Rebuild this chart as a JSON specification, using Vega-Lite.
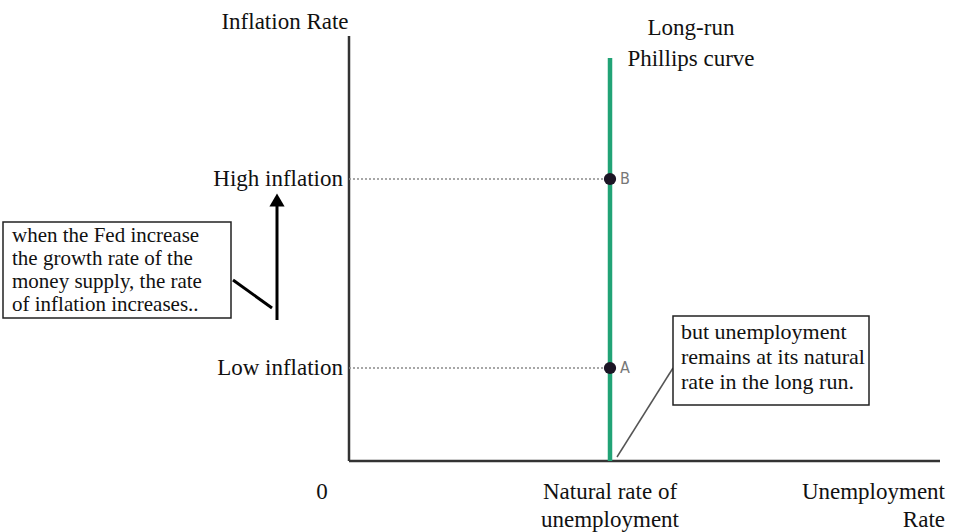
{
  "$schema": "https://vega.github.io/schema/vega-lite/v6.json",
  "width": 965,
  "height": 532,
  "autosize": {"type": "fit", "contains": "padding"},
  "padding": 0,
  "background": "white",
  "config": {"view": {"stroke": null}},
  "layer": [
    {
      "data": {"values": [
        {"part": "vertical axis", "x": 0, "y": 0, "x2": 0, "y2": 425},
        {"part": "horizontal axis", "x": 0, "y": 0, "x2": 591, "y2": 0}
      ]},
      "mark": {"type": "rule", "color": "#333333", "strokeWidth": 2.5},
      "encoding": {
        "x": {"field": "x", "type": "quantitative", "scale": {"domain": [-349, 616], "nice": false, "zero": false}, "axis": null},
        "y": {"field": "y", "type": "quantitative", "scale": {"domain": [-71, 461], "nice": false, "zero": false}, "axis": null},
        "x2": {"field": "x2"},
        "y2": {"field": "y2"}
      }
    },
    {
      "data": {"values": [
        {"level": "High inflation", "x": 0, "x2": 261, "y": 282},
        {"level": "Low inflation", "x": 0, "x2": 261, "y": 93}
      ]},
      "mark": {"type": "rule", "color": "#8a8a8a", "strokeWidth": 1.5, "strokeDash": [2, 2]},
      "encoding": {
        "x": {"field": "x", "type": "quantitative", "scale": {"domain": [-349, 616], "nice": false, "zero": false}, "axis": null},
        "x2": {"field": "x2"},
        "y": {"field": "y", "type": "quantitative", "scale": {"domain": [-71, 461], "nice": false, "zero": false}, "axis": null}
      }
    },
    {
      "data": {"values": [
        {"curve": "Long-run Phillips curve", "x": 261, "y": 0, "y2": 403}
      ]},
      "mark": {"type": "rule", "color": "#21a376", "strokeWidth": 4.5},
      "encoding": {
        "x": {"field": "x", "type": "quantitative", "scale": {"domain": [-349, 616], "nice": false, "zero": false}, "axis": null},
        "y": {"field": "y", "type": "quantitative", "scale": {"domain": [-71, 461], "nice": false, "zero": false}, "axis": null},
        "y2": {"field": "y2"}
      }
    },
    {
      "data": {"values": [
        {"link": "left note", "x": -116, "y": 181, "x2": -77, "y2": 153}
      ]},
      "mark": {"type": "rule", "color": "#000000", "strokeWidth": 3},
      "encoding": {
        "x": {"field": "x", "type": "quantitative", "scale": {"domain": [-349, 616], "nice": false, "zero": false}, "axis": null},
        "y": {"field": "y", "type": "quantitative", "scale": {"domain": [-71, 461], "nice": false, "zero": false}, "axis": null},
        "x2": {"field": "x2"},
        "y2": {"field": "y2"}
      }
    },
    {
      "data": {"values": [
        {"link": "right note", "x": 268, "y": 4, "x2": 324, "y2": 93}
      ]},
      "mark": {"type": "rule", "color": "#555555", "strokeWidth": 1.5},
      "encoding": {
        "x": {"field": "x", "type": "quantitative", "scale": {"domain": [-349, 616], "nice": false, "zero": false}, "axis": null},
        "y": {"field": "y", "type": "quantitative", "scale": {"domain": [-71, 461], "nice": false, "zero": false}, "axis": null},
        "x2": {"field": "x2"},
        "y2": {"field": "y2"}
      }
    },
    {
      "data": {"values": [
        {"arrow": "shaft", "x": -72, "y": 141, "y2": 256}
      ]},
      "mark": {"type": "rule", "color": "#000000", "strokeWidth": 3},
      "encoding": {
        "x": {"field": "x", "type": "quantitative", "scale": {"domain": [-349, 616], "nice": false, "zero": false}, "axis": null},
        "y": {"field": "y", "type": "quantitative", "scale": {"domain": [-71, 461], "nice": false, "zero": false}, "axis": null},
        "y2": {"field": "y2"}
      }
    },
    {
      "data": {"values": [
        {"arrow": "head", "x": -72, "y": 261}
      ]},
      "mark": {"type": "point", "shape": "triangle-up", "filled": true, "color": "#000000", "opacity": 1, "size": 230},
      "encoding": {
        "x": {"field": "x", "type": "quantitative", "scale": {"domain": [-349, 616], "nice": false, "zero": false}, "axis": null},
        "y": {"field": "y", "type": "quantitative", "scale": {"domain": [-71, 461], "nice": false, "zero": false}, "axis": null}
      }
    },
    {
      "data": {"values": [
        {"box": "left", "x": -346, "x2": -118, "y": 239, "y2": 143},
        {"box": "right", "x": 324, "x2": 520, "y": 145, "y2": 56}
      ]},
      "mark": {"type": "rect", "fill": "white", "stroke": "#222222", "strokeWidth": 1.5},
      "encoding": {
        "x": {"field": "x", "type": "quantitative", "scale": {"domain": [-349, 616], "nice": false, "zero": false}, "axis": null},
        "y": {"field": "y", "type": "quantitative", "scale": {"domain": [-71, 461], "nice": false, "zero": false}, "axis": null},
        "x2": {"field": "x2"},
        "y2": {"field": "y2"}
      }
    },
    {
      "data": {"values": [
        {"point": "B", "x": 261, "y": 282},
        {"point": "A", "x": 261, "y": 93}
      ]},
      "mark": {"type": "point", "shape": "circle", "filled": true, "color": "#1c1525", "opacity": 1, "size": 150},
      "encoding": {
        "x": {"field": "x", "type": "quantitative", "scale": {"domain": [-349, 616], "nice": false, "zero": false}, "axis": null},
        "y": {"field": "y", "type": "quantitative", "scale": {"domain": [-71, 461], "nice": false, "zero": false}, "axis": null}
      }
    },
    {
      "data": {"values": [
        {"label": "B", "x": 271, "y": 282},
        {"label": "A", "x": 271, "y": 93}
      ]},
      "mark": {"type": "text", "align": "left", "baseline": "middle", "font": "DejaVu Sans Condensed, DejaVu Sans, sans-serif", "fontSize": 16, "color": "#777777"},
      "encoding": {
        "x": {"field": "x", "type": "quantitative", "scale": {"domain": [-349, 616], "nice": false, "zero": false}, "axis": null},
        "y": {"field": "y", "type": "quantitative", "scale": {"domain": [-71, 461], "nice": false, "zero": false}, "axis": null},
        "text": {"field": "label"}
      }
    },
    {
      "data": {"values": [
        {"label": "Inflation Rate", "x": -64, "y": 439},
        {"label": "0", "x": -27, "y": -31},
        {"label": "Natural rate of", "x": 261, "y": -31},
        {"label": "unemployment", "x": 261, "y": -59},
        {"label": "Long-run", "x": 342, "y": 433},
        {"label": "Phillips curve", "x": 342, "y": 402}
      ]},
      "mark": {"type": "text", "align": "center", "baseline": "middle", "font": "Liberation Serif, Times New Roman, serif", "fontSize": 23, "color": "#111111"},
      "encoding": {
        "x": {"field": "x", "type": "quantitative", "scale": {"domain": [-349, 616], "nice": false, "zero": false}, "axis": null},
        "y": {"field": "y", "type": "quantitative", "scale": {"domain": [-71, 461], "nice": false, "zero": false}, "axis": null},
        "text": {"field": "label"}
      }
    },
    {
      "data": {"values": [
        {"label": "High inflation", "x": -6, "y": 282},
        {"label": "Low inflation", "x": -6, "y": 93},
        {"label": "Unemployment", "x": 596, "y": -31},
        {"label": "Rate", "x": 596, "y": -59}
      ]},
      "mark": {"type": "text", "align": "right", "baseline": "middle", "font": "Liberation Serif, Times New Roman, serif", "fontSize": 23, "color": "#111111"},
      "encoding": {
        "x": {"field": "x", "type": "quantitative", "scale": {"domain": [-349, 616], "nice": false, "zero": false}, "axis": null},
        "y": {"field": "y", "type": "quantitative", "scale": {"domain": [-71, 461], "nice": false, "zero": false}, "axis": null},
        "text": {"field": "label"}
      }
    },
    {
      "data": {"values": [
        {"label": "when the Fed increase", "x": -337, "y": 225},
        {"label": "the growth rate of the", "x": -337, "y": 202},
        {"label": "money supply, the rate", "x": -337, "y": 179},
        {"label": "of inflation increases..", "x": -337, "y": 156}
      ]},
      "mark": {"type": "text", "align": "left", "baseline": "middle", "font": "Liberation Serif, Times New Roman, serif", "fontSize": 21, "color": "#111111"},
      "encoding": {
        "x": {"field": "x", "type": "quantitative", "scale": {"domain": [-349, 616], "nice": false, "zero": false}, "axis": null},
        "y": {"field": "y", "type": "quantitative", "scale": {"domain": [-71, 461], "nice": false, "zero": false}, "axis": null},
        "text": {"field": "label"}
      }
    },
    {
      "data": {"values": [
        {"label": "but unemployment", "x": 332, "y": 129},
        {"label": "remains at its natural", "x": 332, "y": 104},
        {"label": "rate in the long run.", "x": 332, "y": 79}
      ]},
      "mark": {"type": "text", "align": "left", "baseline": "middle", "font": "Liberation Serif, Times New Roman, serif", "fontSize": 22, "color": "#111111"},
      "encoding": {
        "x": {"field": "x", "type": "quantitative", "scale": {"domain": [-349, 616], "nice": false, "zero": false}, "axis": null},
        "y": {"field": "y", "type": "quantitative", "scale": {"domain": [-71, 461], "nice": false, "zero": false}, "axis": null},
        "text": {"field": "label"}
      }
    }
  ]
}
